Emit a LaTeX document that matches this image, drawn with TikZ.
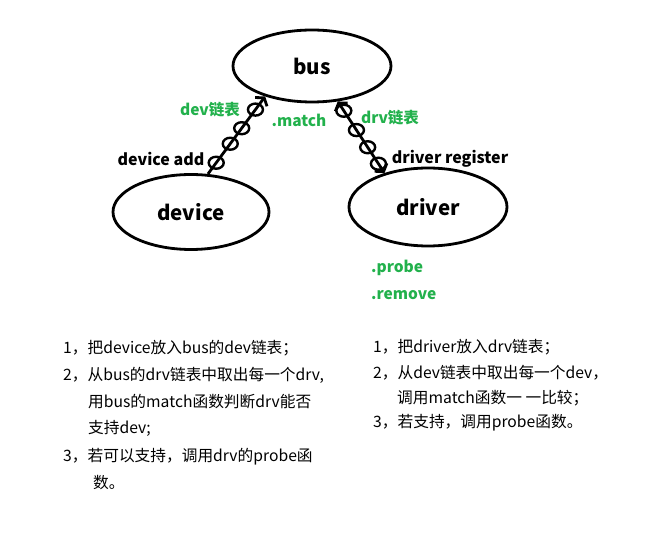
\documentclass[tikz,border=0pt]{standalone}
\usepackage{fontspec}
\setmainfont{Noto Sans CJK SC}
\usetikzlibrary{arrows.meta,shapes.geometric}
\definecolor{pgreen}{HTML}{22B14C}
\begin{document}
\begin{tikzpicture}[x=1pt,y=-1pt,
  blob/.style={ellipse, draw, line width=2.8pt, inner sep=0, font=\bfseries\fontsize{20.5}{24}\selectfont},
  link/.style={ellipse, draw, line width=2.4pt, minimum width=15pt, minimum height=12pt, inner sep=0},
  conn/.style={line width=2.8pt},
  glabel/.style={text=pgreen, font=\bfseries\fontsize{15.5}{18}\selectfont, inner sep=0},
  blabel/.style={font=\bfseries\fontsize{16}{18}\selectfont, inner sep=0},
  body/.style={anchor=west, font=\fontsize{15.7}{18}\selectfont, inner sep=0}]
\useasboundingbox (0,0) rectangle (667,534);
\node[blob, minimum width=158pt, minimum height=72pt] (bus) at (312,66) {bus};
\node[blob, minimum width=156pt, minimum height=75pt] (device) at (191,212) {device};
\node[blob, minimum width=158pt, minimum height=78pt] (driver) at (428,207) {driver};

\draw[conn, -{Straight Barb[angle=110:9pt]}] (device.66) -- (bus.213)
  node[link, pos=0.145] (l1) {}
  node[link, pos=0.39] (l2) {}
  node[link, pos=0.59] (l3) {}
  node[link, pos=0.83] (l4) {};
\draw[conn, {Straight Barb[angle=110:9pt]}-{Straight Barb[angle=110:9pt]}] (bus.-54) -- (driver.142)
  node[link, pos=0.13] (r1) {}
  node[link, pos=0.40] (r2) {}
  node[link, pos=0.64] (r3) {}
  node[link, pos=0.87] (r4) {};

\node[glabel] (devlist) at (210,110) {dev链表};
\node[glabel] (match) at (299,120) {.match};
\node[glabel] (drvlist) at (390,118) {drv链表};
\node[blabel] (devadd) at (161,159) {device add};
\node[blabel] (drvreg) at (450,159) {driver register};
\node[glabel, anchor=west] (probe) at (371,268) {.probe};
\node[glabel, anchor=west] (remove) at (371,295) {.remove};

\node[body] (a1) at (63,348) {1，把device放入bus的dev链表；};
\node[body] (a2) at (63,375) {2，从bus的drv链表中取出每一个drv,};
\node[body] (a3) at (88,402) {用bus的match函数判断drv能否};
\node[body] (a4) at (88,428) {支持dev;};
\node[body] (a5) at (63,457) {3，若可以支持，调用drv的probe函};
\node[body] (a6) at (93,483) {数。};

\node[body] (b1) at (373,347) {1，把driver放入drv链表；};
\node[body] (b2) at (373,373) {2，从dev链表中取出每一个dev，};
\node[body] (b3) at (397,398) {调用match函数一 一比较；};
\node[body] (b4) at (373,423) {3，若支持，调用probe函数。};
\end{tikzpicture}
\end{document}
